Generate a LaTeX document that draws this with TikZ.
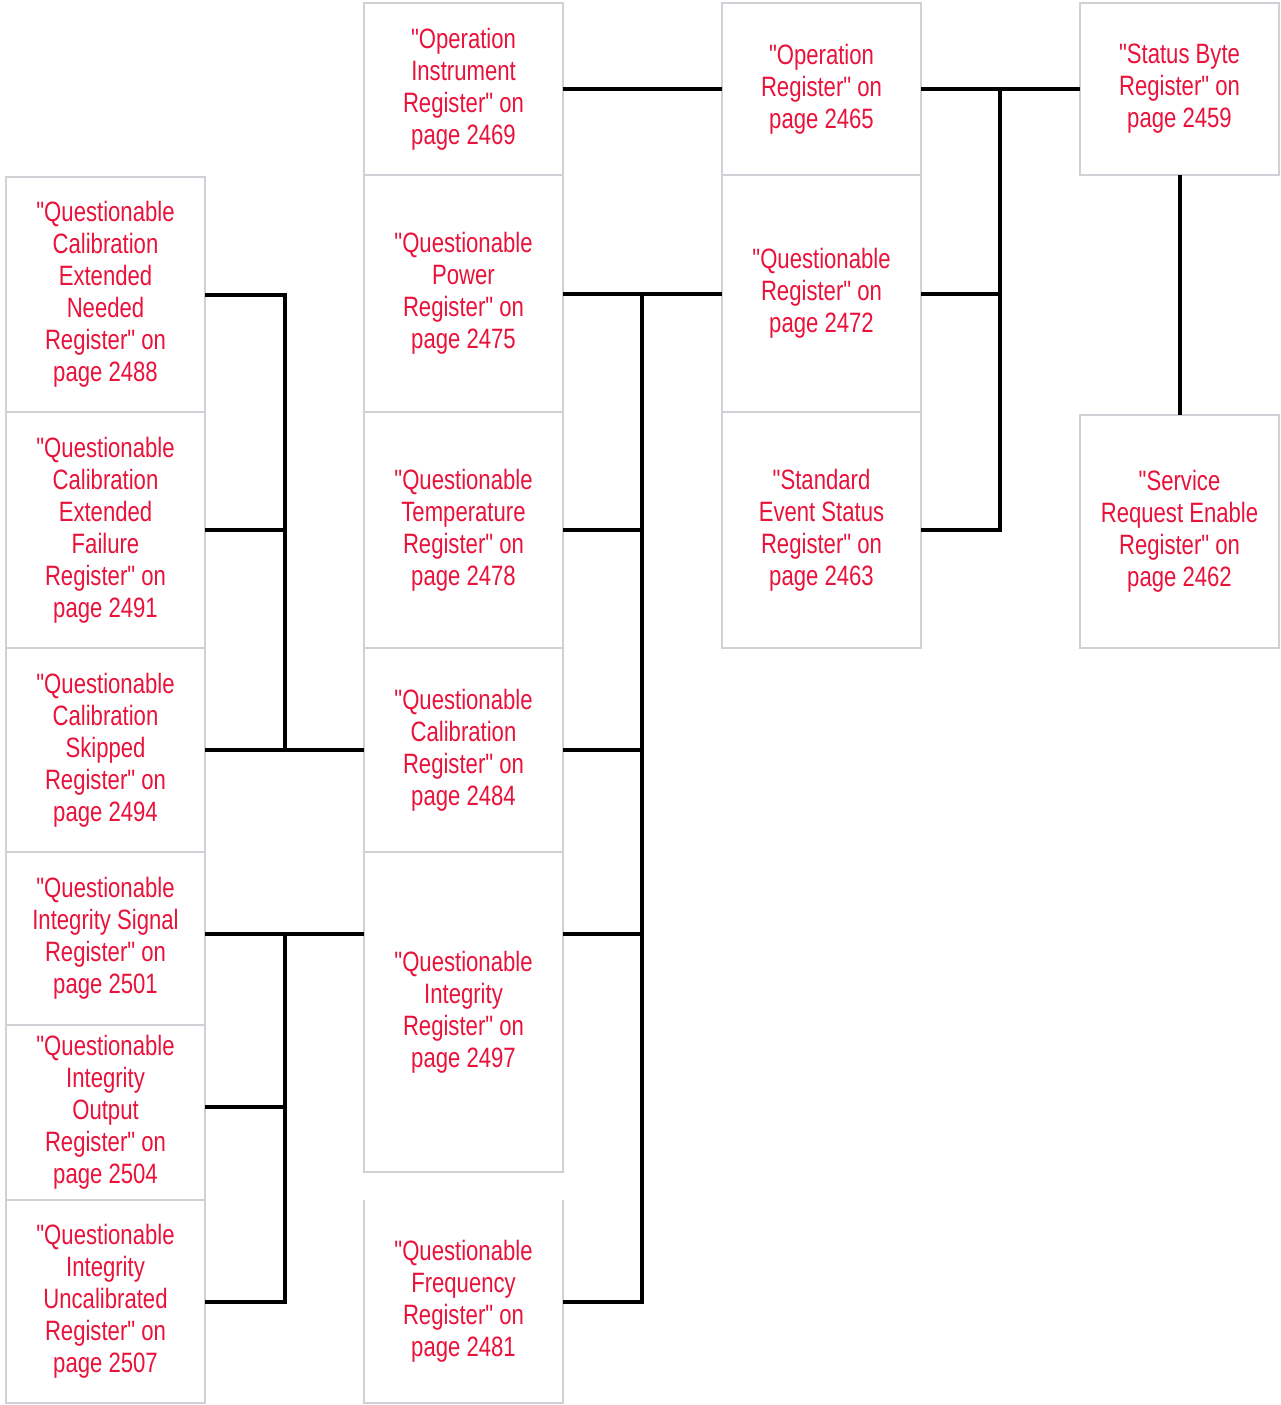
\documentclass[tikz,border=0pt]{standalone}
\usepackage{fontspec}
\newfontfamily\regfont{Liberation Sans}[FakeStretch=0.79]
\definecolor{keyred}{RGB}{232,18,58}
\definecolor{boxgray}{RGB}{208,208,214}
\tikzset{
  regbox/.style={draw=boxgray, line width=2pt, inner sep=0pt, outer sep=0pt,
    align=center, text=keyred, font=\regfont\fontsize{28}{32}\selectfont},
  openbox/.style={regbox, draw=none},
  wire/.style={draw=black, line width=4pt, line join=miter}
}
\begin{document}
\begin{tikzpicture}[x=1pt,y=-1pt]
\useasboundingbox (0,0) rectangle (1281,1405);
% column A
\node[regbox, minimum width=199pt, minimum height=235pt] (A1) at (105.5,294.5) {"Questionable\\Calibration\\Extended\\Needed\\Register" on\\page 2488};
\node[regbox, minimum width=199pt, minimum height=236pt] (A2) at (105.5,530) {"Questionable\\Calibration\\Extended\\Failure\\Register" on\\page 2491};
\node[regbox, minimum width=199pt, minimum height=204pt] (A3) at (105.5,750) {"Questionable\\Calibration\\Skipped\\Register" on\\page 2494};
\node[regbox, minimum width=199pt, minimum height=173pt] (A4) at (105.5,938.5) {"Questionable\\Integrity Signal\\Register" on\\page 2501};
\node[regbox, minimum width=199pt, minimum height=175pt] (A5) at (105.5,1112.5) {"Questionable\\Integrity\\Output\\Register" on\\page 2504};
\node[regbox, minimum width=199pt, minimum height=203pt] (A6) at (105.5,1301.5) {"Questionable\\Integrity\\Uncalibrated\\Register" on\\page 2507};
% column B
\node[regbox, minimum width=199pt, minimum height=172pt] (B1) at (463.5,89) {"Operation\\Instrument\\Register" on\\page 2469};
\node[regbox, minimum width=199pt, minimum height=237pt] (B2) at (463.5,293.5) {"Questionable\\Power\\Register" on\\page 2475};
\node[regbox, minimum width=199pt, minimum height=236pt] (B3) at (463.5,530) {"Questionable\\Temperature\\Register" on\\page 2478};
\node[regbox, minimum width=199pt, minimum height=204pt] (B4) at (463.5,750) {"Questionable\\Calibration\\Register" on\\page 2484};
\node[regbox, minimum width=199pt, minimum height=320pt] (B5) at (463.5,1012) {"Questionable\\Integrity\\Register" on\\page 2497};
\node[openbox, minimum width=199pt, minimum height=203pt] (B6) at (463.5,1301.5) {"Questionable\\Frequency\\Register" on\\page 2481};
\draw[draw=boxgray, line width=2pt] (B6.north west) -- (B6.south west) -- (B6.south east) -- (B6.north east);
% column C
\node[regbox, minimum width=199pt, minimum height=172pt] (C1) at (821.5,89) {"Operation\\Register" on\\page 2465};
\node[regbox, minimum width=199pt, minimum height=237pt] (C2) at (821.5,293.5) {"Questionable\\Register" on\\page 2472};
\node[regbox, minimum width=199pt, minimum height=236pt] (C3) at (821.5,530) {"Standard\\Event Status\\Register" on\\page 2463};
% column D
\node[regbox, minimum width=199pt, minimum height=172pt] (D1) at (1179.5,89) {"Status Byte\\Register" on\\page 2459};
\node[regbox, minimum width=199pt, minimum height=233pt] (D2) at (1179.5,531.5) {"Service\\Request Enable\\Register" on\\page 2462};
% junction coordinates
\coordinate (jA) at (285,295);
\coordinate (jB) at (642,295);
\coordinate (jC) at (1000,89);
\coordinate (r934) at (0,934);
\coordinate (r1107) at (0,1107);
% wires to the right
\draw[wire] (B1.east) -- (C1.west);
\draw[wire] (C1.east) -- (D1.west);
\draw[wire] (C2.east) -- (C2.east -| jC);
\draw[wire] (C3.east) -| (jC);
\draw[wire] (D1.south) -- (D2.north);
% column B bus
\draw[wire] (B2.east) -- (C2.west);
\draw[wire] (B6.east) -| (jB);
\draw[wire] (B3.east) -- (B3.east -| jB);
\draw[wire] (B4.east) -- (B4.east -| jB);
\draw[wire] (B5.east |- r934) -- (jB |- r934);
% column A upper bus
\draw[wire] (A1.east) -| (jA |- A3.east);
\draw[wire] (A2.east) -- (A2.east -| jA);
\draw[wire] (A3.east) -- (B4.west);
% column A lower bus
\draw[wire] (A4.east |- r934) -- (B5.west |- r934);
\draw[wire] (A6.east) -| (jA |- r934);
\draw[wire] (A5.east |- r1107) -- (jA |- r1107);
\end{tikzpicture}
\end{document}
